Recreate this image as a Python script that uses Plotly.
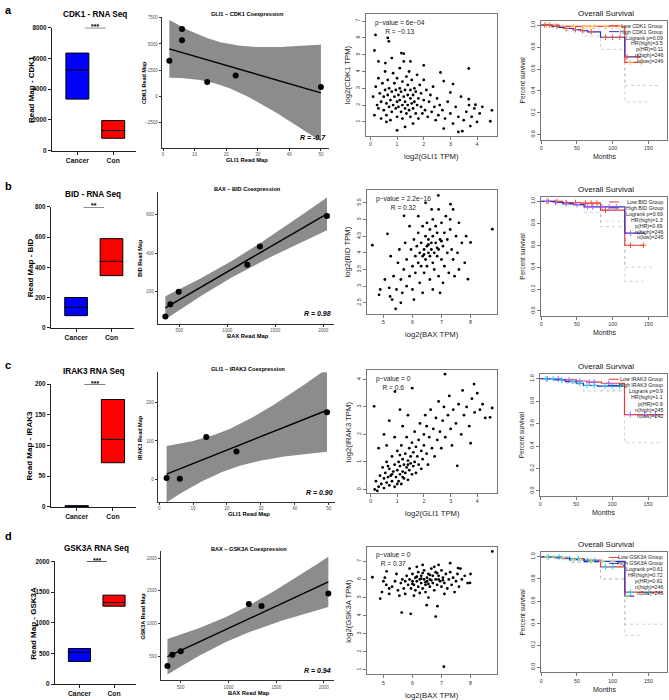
import numpy as np
import plotly.graph_objects as go

FONT = "Liberation Sans, Arial, sans-serif"
W, H = 669, 700

# ---------------- RNA-seq boxes: (q1, median, q3) ----------------
genes = ["CDK1", "BID", "IRAK3", "GSK3A"]
rna_titles = ["CDK1 - RNA Seq", "BID - RNA Seq", "IRAK3 RNA Seq", "GSK3A RNA Seq"]
rna_ymax = [8000, 800, 200, 2000]
rna_dtick = [2000, 200, 50, 500]
cancer_q = [[3350, 5250, 6350], [80, 135, 200], [0, 1, 2], [370, 520, 580]]
con_q = [[800, 1300, 1950], [345, 440, 590], [72, 110, 175], [1270, 1330, 1450]]
stars = ["***", "**", "***", "***"]

# ---------------- coexpression (read map) ----------------
co_drivers = ["GLI1", "BAX", "GLI1", "BAX"]
gli1_cdk1_x = [2, 6, 6, 14, 23, 50]
gli1_cdk1_y = [3400, 6440, 5350, 1350, 1990, 870]
bax_bid_x = [355, 407, 494, 1209, 1340, 2039]
bax_bid_y = [72, 135, 200, 340, 434, 592]
gli1_irak3_x = [2.2, 6.1, 13.9, 22.8, 49.5]
gli1_irak3_y = [3, 1, 110, 72, 175]
bax_gsk3a_x = [361, 413, 500, 1214, 1347, 2047]
bax_gsk3a_y = [353, 524, 580, 1298, 1268, 1460]
co_r = ["R = -0.7", "R = 0.98", "R = 0.90", "R = 0.94"]
t_crit = {3: 3.182, 4: 2.776}

# ---------------- TCGA scatter (log2 TPM) ----------------
scat_a = [(0.1,2.5),(0.15,1.4),(0.2,3.1),(0.25,2.0),(0.3,3.6),(0.3,1.8),(0.35,2.7),(0.4,2.2),(0.4,1.2),
    (0.45,3.3),(0.5,2.5),(0.5,1.7),(0.55,4.0),(0.55,2.9),(0.6,2.1),(0.6,1.4),(0.65,3.5),(0.65,2.6),
    (0.7,1.9),(0.7,3.0),(0.75,2.3),(0.75,1.1),(0.8,2.8),(0.8,1.6),(0.85,3.9),(0.85,2.0),(0.9,2.5),
    (0.9,3.3),(0.95,1.8),(0.95,2.9),(1.0,2.2),(1.0,1.3),(1.0,3.6),(1.05,2.6),(1.05,1.9),(1.1,4.2),
    (1.1,3.0),(1.1,2.3),(1.15,1.6),(1.15,2.8),(1.2,2.0),(1.2,3.4),(1.2,1.2),(1.25,2.5),(1.25,4.6),
    (1.3,1.8),(1.3,2.9),(1.3,2.2),(1.35,3.7),(1.35,1.5),(1.4,2.6),(1.4,2.0),(1.4,3.2),(1.45,1.7),
    (1.45,4.0),(1.5,2.4),(1.5,2.9),(1.5,1.3),(1.55,2.1),(1.55,3.5),(1.6,1.8),(1.6,2.6),(1.65,3.0),
    (1.65,2.2),(1.7,1.5),(1.7,2.8),(1.75,3.8),(1.75,2.0),(1.8,2.4),(1.8,1.2),(1.85,3.2),(1.9,1.9),
    (1.9,2.7),(1.95,1.5),(2.0,2.3),(2.0,3.5),(2.05,1.7),(2.1,2.9),(2.15,1.3),(2.2,2.2),(2.25,2.6),
    (2.3,1.6),(2.35,3.1),(2.4,1.9),(2.45,1.1),(2.5,2.4),(2.55,1.4),(2.6,2.0),(2.7,1.7),(2.8,1.2),
    (2.9,2.2),(3.0,1.5),(3.1,0.9),(3.2,1.9),(3.3,1.3),(3.4,2.5),(3.5,1.1),(3.6,1.6),(3.7,2.0),
    (3.8,1.3),(3.9,1.8),(4.0,1.0),(4.1,1.5),(4.2,1.9),(3.45,0.45),(2.75,0.6),(1.6,0.9),(1.3,0.7),
    (0.6,1.0),(0.3,4.6),(1.5,4.6),(0.8,4.8),(0.19,6.18),(0.65,6.0),(0.69,5.8),(0.15,5.25),(1.16,5.1),
    (1.25,5.06),(0.56,4.5),(2.0,4.37),(3.69,4.18),(2.63,3.94),(2.75,3.43),(3.1,3.25),(3.0,2.75),
    (3.69,2.35),(3.94,2.02),(4.56,1.69),(4.5,1.04),(3.75,0.75),(3.3,0.4),(1.0,0.5)]
scat_b = [(5.6,3.2),(5.7,3.5),(5.8,3.0),(5.8,3.8),(5.9,3.3),(5.95,4.1),(6.0,3.6),(6.0,2.9),(6.05,4.4),
    (6.1,3.9),(6.1,3.4),(6.15,4.2),(6.2,3.7),(6.2,4.6),(6.25,3.1),(6.25,4.0),(6.3,4.3),(6.3,3.6),
    (6.35,4.8),(6.35,3.9),(6.4,4.1),(6.4,3.4),(6.45,4.5),(6.45,3.8),(6.5,4.2),(6.5,4.9),(6.5,3.6),
    (6.55,4.0),(6.55,4.4),(6.6,3.2),(6.6,4.7),(6.6,3.9),(6.65,4.3),(6.65,4.1),(6.7,3.7),(6.7,4.5),
    (6.7,5.0),(6.75,4.0),(6.75,3.5),(6.8,4.3),(6.8,4.8),(6.85,3.9),(6.85,4.6),(6.9,4.1),(6.9,3.3),
    (6.95,4.4),(7.0,4.9),(7.0,3.8),(7.05,4.2),(7.1,4.6),(7.1,3.6),(7.15,5.1),(7.2,4.0),(7.2,4.4),
    (7.25,3.4),(7.3,4.7),(7.35,4.1),(7.4,5.3),(7.4,3.8),(7.5,4.5),(7.55,4.0),(7.6,4.9),(7.7,4.3),
    (7.8,3.7),(7.85,4.5),(5.5,3.7),(5.45,2.9),(5.35,3.3),(5.3,2.6),(5.25,3.9),(5.6,2.5),(5.75,4.3),
    (5.9,4.8),(6.05,2.6),(6.2,5.1),(6.45,5.5),(6.7,2.9),(6.9,5.3),(7.05,3.1),(7.3,5.0),(7.45,3.3),
    (5.65,2.8),(5.55,4.1),(6.35,2.8),(6.95,2.8),(7.6,3.5),(5.05,3.2),(5.2,2.95),(4.62,4.23),
    (5.14,4.57),(8.75,4.71),(8.0,4.31),(7.91,3.21),(6.89,5.72),(7.31,5.46),(6.66,5.3),(5.71,5.11),
    (5.42,2.32),(4.85,2.74),(4.89,2.9),(5.23,2.69),(6.55,4.25),(6.85,4.15),(6.4,3.95),(7.0,4.35)]
scat_c = [(0.2,0.3),(0.3,0.1),(0.35,0.5),(0.4,0.2),(0.45,0.8),(0.5,0.4),(0.5,0.05),(0.55,0.6),(0.6,0.25),
    (0.6,1.0),(0.65,0.45),(0.7,0.15),(0.7,0.75),(0.75,0.5),(0.8,1.2),(0.8,0.3),(0.85,0.65),(0.9,0.9),
    (0.9,0.1),(0.95,0.45),(1.0,0.7),(1.0,1.4),(1.05,0.3),(1.05,1.0),(1.1,0.55),(1.1,0.85),(1.15,1.6),
    (1.15,0.2),(1.2,0.65),(1.2,1.1),(1.25,0.4),(1.25,0.9),(1.3,1.3),(1.3,0.6),(1.35,0.8),(1.35,1.9),
    (1.4,1.05),(1.4,0.35),(1.45,0.7),(1.45,1.5),(1.5,0.95),(1.5,1.2),(1.55,0.55),(1.55,1.7),(1.6,0.85),
    (1.6,1.35),(1.65,2.1),(1.65,1.0),(1.7,0.6),(1.7,1.55),(1.75,1.2),(1.8,0.9),(1.8,1.8),(1.85,2.4),
    (1.9,1.4),(1.9,0.75),(1.95,1.1),(2.0,2.0),(2.0,1.6),(2.05,2.7),(2.1,1.3),(2.1,2.3),(2.15,0.9),
    (2.2,1.9),(2.25,2.9),(2.3,1.5),(2.35,2.2),(2.4,1.2),(2.45,2.6),(2.5,1.8),(2.55,3.2),(2.6,2.1),
    (2.65,1.5),(2.7,2.5),(2.75,3.0),(2.8,1.9),(2.9,2.7),(2.95,3.4),(3.0,2.2),(3.05,1.6),(3.1,2.9),
    (3.2,2.4),(3.3,3.1),(3.4,2.0),(3.45,3.6),(3.5,2.7),(3.6,3.0),(3.7,2.3),(3.8,3.3),(3.9,2.8),
    (4.0,3.5),(4.1,2.9),(4.2,3.1),(4.3,2.6),(0.5,2.0),(0.7,2.5),(0.9,1.9),(1.1,2.9),(0.3,1.5),
    (1.2,2.3),(1.4,2.7),(0.6,1.6),(2.79,4.19),(0.91,3.56),(0.13,3.02),(3.88,3.83),(1.56,3.68),
    (3.75,1.68),(3.25,0.86),(4.56,2.96),(4.48,2.62),(0.15,0.0),(0.25,-0.05),(1.0,0.2),(1.2,0.45),
    (0.8,0.55),(1.4,0.9),(0.65,0.85),(1.1,1.25)]
scat_d = [(5.3,5.6),(5.4,5.9),(5.5,5.4),(5.6,5.8),(5.65,6.0),(5.7,5.5),(5.75,5.9),(5.8,6.2),(5.85,5.7),
    (5.9,6.0),(5.95,5.5),(6.0,5.9),(6.0,6.3),(6.05,5.7),(6.1,6.1),(6.1,5.4),(6.15,5.9),(6.2,6.4),
    (6.2,5.6),(6.25,6.0),(6.3,5.8),(6.3,6.2),(6.35,5.5),(6.4,6.0),(6.4,6.5),(6.45,5.7),(6.5,6.1),
    (6.5,5.9),(6.55,6.3),(6.6,5.6),(6.6,6.0),(6.65,6.6),(6.7,5.8),(6.7,6.2),(6.75,5.4),(6.8,6.0),
    (6.8,6.4),(6.85,5.7),(6.9,6.2),(6.95,5.9),(7.0,6.5),(7.0,5.6),(7.05,6.1),(7.1,5.8),(7.15,6.3),
    (7.2,5.5),(7.25,6.0),(7.3,6.4),(7.35,5.7),(7.4,6.1),(7.5,5.9),(7.55,6.3),(7.6,5.6),(7.7,6.0),
    (7.8,6.2),(7.9,5.8),(5.1,5.7),(5.0,5.9),(4.95,5.3),(5.2,5.2),(5.45,6.3),(5.55,5.1),(5.9,6.6),
    (6.05,5.1),(6.35,6.8),(6.55,5.0),(6.9,6.8),(7.1,5.2),(7.3,6.9),(7.45,5.3),(6.15,6.7),(6.45,5.3),
    (6.75,6.7),(5.75,5.2),(6.25,5.25),(7.65,6.6),(8.0,6.3),(6.3,6.05),(6.6,6.25),(6.9,6.0),(6.45,5.85),
    (6.15,6.15),(6.85,6.35),(6.55,5.75),(8.75,7.55),(4.62,6.12),(5.11,6.45),(5.63,4.17),(5.94,4.1),
    (6.8,3.95),(7.08,1.18),(4.89,4.94),(6.49,4.58),(6.86,4.52),(7.98,5.81),(7.57,6.63),(5.2,5.5),
    (5.05,6.1),(6.65,5.95),(6.35,6.35),(7.05,5.95),(6.0,5.75)]
scat_labels = [("GLI1", "CDK1"), ("BAX", "BID"), ("GLI1", "IRAK3"), ("BAX", "GSK3A")]
scat_stats = [("6e\u221204", "\u22120.13"), ("2.2e\u221216", "0.32"), ("0", "0.6"), ("0", "0.37")]

# ---------------- survival (Kaplan-Meier steps) ----------------
low_t = [[0, 25, 117, 140], [0, 30, 55, 83, 117, 143], [0, 30, 50, 65, 85, 117, 170], [0, 30, 60, 83, 117, 170]]
low_s = [[1.0, 0.99, 0.66, 0.66], [1.0, 0.99, 0.985, 0.92, 0.60, 0.60],
         [1.0, 0.99, 0.98, 0.97, 0.96, 0.68, 0.68], [1.0, 0.985, 0.97, 0.91, 0.68, 0.68]]
high_t = [[0, 15, 25, 32, 45, 55, 65, 83, 117, 140], [0, 20, 30, 45, 60, 117, 145],
          [0, 20, 35, 50, 60, 80, 115], [0, 20, 40, 60, 117, 130]]
high_s = [[1.0, 0.99, 0.98, 0.97, 0.96, 0.95, 0.94, 0.89, 0.71, 0.71], [1.0, 0.99, 0.98, 0.97, 0.95, 0.71, 0.71],
          [1.0, 0.99, 0.975, 0.96, 0.94, 0.935, 0.935], [1.0, 0.99, 0.975, 0.96, 0.645, 0.645]]
low_ci_t = [[0, 25, 60, 117, 150], [0, 40, 83, 117, 143], [0, 50, 83, 117, 170], [0, 40, 83, 117, 170]]
low_ci_s = [[1.0, 0.98, 0.97, 0.30, 0.30], [1.0, 0.97, 0.82, 0.27, 0.27],
            [1.0, 0.95, 0.90, 0.43, 0.43], [1.0, 0.95, 0.80, 0.39, 0.39]]
high_ci_t = [[0, 15, 32, 60, 83, 117, 165], [0, 30, 60, 83, 117, 155], [0, 30, 60, 83, 115], [0, 40, 83, 117, 140]]
high_ci_s = [[1.0, 0.98, 0.95, 0.90, 0.78, 0.45, 0.45], [1.0, 0.97, 0.90, 0.77, 0.40, 0.40],
             [1.0, 0.96, 0.89, 0.89, 0.89], [1.0, 0.95, 0.80, 0.29, 0.29]]
low_cens = [[8, 18, 30, 45, 60, 68, 75, 90, 100, 110, 125, 140],
            [10, 22, 35, 48, 62, 70, 78, 90, 125, 143],
            [10, 25, 40, 55, 68, 75, 95, 125, 145, 160],
            [10, 25, 40, 52, 65, 75, 90, 100, 125, 150]]
high_cens = [[5, 12, 22, 35, 48, 58, 70, 90, 100, 110, 120, 135],
             [8, 20, 35, 50, 65, 72, 85, 95, 105, 125],
             [8, 18, 30, 45, 55, 65, 75, 90, 100, 110],
             [8, 18, 30, 45, 55, 70, 85, 100, 120]]
km_stats = [("0.09", "3.5", "0.11", "246", "246"), ("0.69", "1.3", "0.69", "246", "245"),
            ("0.9", "1.1", "0.9", "245", "242"), ("0.61", "0.72", "0.61", "246", "246")]

# ---------------- panel boxes in pixels: (x0, x1, y0_top, y1_bottom) ----------------
boxes = [
    [(51, 135, 24, 148), (161, 328, 13, 145), (366, 497, 10, 133), (541, 667, 17, 137)],
    [(50, 133, 205, 327), (157, 333, 190, 323), (367, 497, 188, 313), (541, 667, 195, 315)],
    [(50, 135, 384, 508), (157, 335, 372, 503), (367, 497, 370, 494), (540, 667, 374, 497)],
    [(54, 135, 563, 687), (160, 333, 553, 683), (367, 497, 548, 677), (541, 667, 554, 675)],
]
co_ranges = [([-0.4, 52.4], [-4930, 7600]), ([276, 2107], [34, 716]),
             ([-0.4, 52.0], [-60, 280]), ([291, 2101], [137, 2100])]
co_ticks = [([0, 10, 20, 30, 40, 50], [-2500, 0, 2500, 5000, 7500]), ([500, 1000, 1500, 2000], [200, 400, 600]),
            ([0, 10, 20, 30, 40, 50], [0, 100, 200]), ([500, 1000, 1500, 2000], [500, 1000, 1500, 2000])]
sc_ranges = [([-0.15, 4.76], [0.18, 7.43]), ([4.45, 8.92], [2.17, 5.88]),
             ([-0.12, 4.75], [-0.13, 4.33]), ([4.45, 8.92], [0.76, 7.82])]
sc_ticks = [([0, 1, 2, 3, 4], [1, 2, 3, 4, 5, 6, 7]), ([5, 6, 7, 8], [2.5, 3, 3.5, 4, 4.5, 5, 5.5]),
            ([0, 1, 2, 3, 4], [0, 1, 2, 3, 4]), ([5, 6, 7, 8], [1, 2, 3, 4, 5, 6, 7])]
letters = [("a", 6), ("b", 184), ("c", 365), ("d", 537)]

RED, BLUE = "#ff0000", "#0000ff"
KM_RED, KM_BLUE = "#e8383d", "#3030c8"


def px(x):
    return x / W


def py(y):
    return 1 - y / H


fig = go.Figure()
layout = {}
annotations = []
shapes = []


def ann(text, x, y, size, xanchor="center", yanchor="middle", angle=0, color="black",
        xref="paper", yref="paper", yshift=0):
    annotations.append(dict(text=text, x=x, y=y, xref=xref, yref=yref, showarrow=False,
                            xanchor=xanchor, yanchor=yanchor, textangle=angle, yshift=yshift,
                            font=dict(family=FONT, size=size, color=color)))


def set_axes(i, box, xr, yr, **kw):
    x0, x1, y0, y1 = box
    common = dict(showgrid=False, zeroline=False, showline=True, ticks="outside", fixedrange=True)
    xa = dict(common, domain=[px(x0), px(x1)], range=xr, anchor=f"y{i}")
    ya = dict(common, domain=[py(y1), py(y0)], range=yr, anchor=f"x{i}")
    xa.update(kw.get("x", {}))
    ya.update(kw.get("y", {}))
    layout[f"xaxis{i}"] = xa
    layout[f"yaxis{i}"] = ya


def step_at(t, s, when):
    idx = np.searchsorted(t, when, side="right") - 1
    return np.asarray(s)[idx]


co_x = [gli1_cdk1_x, bax_bid_x, gli1_irak3_x, bax_gsk3a_x]
co_y = [gli1_cdk1_y, bax_bid_y, gli1_irak3_y, bax_gsk3a_y]
scats = [scat_a, scat_b, scat_c, scat_d]

for r in range(4):
    gene = genes[r]
    # ---------- column 1: RNA-seq box ----------
    i = r * 4 + 1
    b = boxes[r][0]
    xs, ys = f"x{i}", f"y{i}"
    for cat, q, col in (("Cancer", cancer_q[r], BLUE), ("Con", con_q[r], RED)):
        fig.add_trace(go.Box(x=[cat], q1=[q[0]], median=[q[1]], q3=[q[2]], lowerfence=[q[0]],
                             upperfence=[q[2]], fillcolor=col, line=dict(color="black", width=1),
                             width=0.64, whiskerwidth=0, boxpoints=False, showlegend=False,
                             hoverinfo="skip", xaxis=xs, yaxis=ys))
    yt = list(range(0, rna_ymax[r] + 1, rna_dtick[r]))
    set_axes(i, b, [-0.71, 1.63], [0, rna_ymax[r]],
             x=dict(type="category", categoryorder="array", categoryarray=["Cancer", "Con"],
                    tickvals=["Cancer", "Con"], ticktext=["<b>Cancer</b>", "<b>Con</b>"],
                    linecolor="#222", linewidth=1.3, ticklen=3, tickcolor="#222",
                    tickfont=dict(family=FONT, size=6.8, color="#111")),
             y=dict(tickvals=yt, ticktext=[f"<b>{v}</b>" for v in yt], linecolor="#222", linewidth=1.3,
                    ticklen=3, tickcolor="#222", tickfont=dict(family=FONT, size=6.3, color="#111")))
    top = rna_ymax[r]
    shapes.append(dict(type="line", xref=xs, yref=ys, x0=0.21, x1=0.79, y0=top, y1=top,
                       line=dict(color="black", width=1)))
    ann(f"<b>{stars[r]}</b>", 0.5, top, 7, xref=xs, yref=ys, yshift=1)
    ann(f"<b>{rna_titles[r]}</b>", px((b[0] + b[1]) / 2 + 1), py(b[2] - 13), 8.2)
    ann(f"<b>Read Map - {gene}</b>", px(b[0] - 21), py((b[2] + b[3]) / 2), 8, angle=-90)
    ann(f"<b>{letters[r][0]}</b>", px(2), py(letters[r][1]), 11, xanchor="left")

    # ---------- column 2: coexpression with lm fit ----------
    i = r * 4 + 2
    b = boxes[r][1]
    xs, ys = f"x{i}", f"y{i}"
    x = np.asarray(co_x[r], float)
    y = np.asarray(co_y[r], float)
    n = len(x)
    slope, icpt = np.polyfit(x, y, 1)
    resid = y - (icpt + slope * x)
    s = np.sqrt(np.sum(resid ** 2) / (n - 2))
    sxx = np.sum((x - x.mean()) ** 2)
    grid = np.linspace(x.min(), x.max(), 80)
    fit = icpt + slope * grid
    half = t_crit[n - 2] * s * np.sqrt(1 / n + (grid - x.mean()) ** 2 / sxx)
    fig.add_trace(go.Scatter(x=np.concatenate([grid, grid[::-1]]),
                             y=np.concatenate([fit + half, (fit - half)[::-1]]),
                             fill="toself", fillcolor="#8c8c8c", line=dict(width=0),
                             mode="lines", hoverinfo="skip", showlegend=False, xaxis=xs, yaxis=ys))
    fig.add_trace(go.Scatter(x=grid, y=fit, mode="lines", line=dict(color="black", width=1.4),
                             hoverinfo="skip", showlegend=False, xaxis=xs, yaxis=ys))
    fig.add_trace(go.Scatter(x=x, y=y, mode="markers", marker=dict(color="black", size=6),
                             hoverinfo="skip", showlegend=False, xaxis=xs, yaxis=ys))
    xt, ytk = co_ticks[r]
    tick_style = dict(linecolor="#333", linewidth=1, ticklen=2, tickcolor="#333",
                      tickfont=dict(family=FONT, size=4.5, color="#555"))
    set_axes(i, b, co_ranges[r][0], co_ranges[r][1], x=dict(tickvals=xt, **tick_style),
             y=dict(tickvals=ytk, **tick_style))
    ann(f"<b>{co_drivers[r]} \u2013 {gene} Coexpression</b>", px((b[0] + b[1]) / 2 + 2), py(b[2] - 3), 5.6)
    ann(f"<b>{gene} Read Map</b>", px(b[0] - 18), py((b[2] + b[3]) / 2), 5.5, angle=-90)
    ann(f"<b>{co_drivers[r]} Read Map</b>", px((b[0] + b[1]) / 2 + 2), py(b[3] + 12.5), 5.8)
    ann(f"<b><i>{co_r[r]}</i></b>", px(b[1] - 1), py(b[3] - 10), 7, xanchor="right")

    # ---------- column 3: TCGA scatter ----------
    i = r * 4 + 3
    b = boxes[r][2]
    xs, ys = f"x{i}", f"y{i}"
    pts = np.asarray(scats[r])
    fig.add_trace(go.Scatter(x=pts[:, 0], y=pts[:, 1], mode="markers",
                             marker=dict(color="black", size=2.8), hoverinfo="skip",
                             showlegend=False, xaxis=xs, yaxis=ys))
    xt, ytk = sc_ticks[r]
    box_style = dict(mirror=True, linecolor="#777", linewidth=1, ticklen=3, tickcolor="#777",
                     tickfont=dict(family=FONT, size=5.3, color="#333"))
    set_axes(i, b, sc_ranges[r][0], sc_ranges[r][1], x=dict(tickvals=xt, **box_style),
             y=dict(tickvals=ytk, tickangle=-90, **box_style))
    gx, gy = scat_labels[r]
    ann(f"log2({gx} TPM)", px((b[0] + b[1]) / 2), py(b[3] + 21), 7.7, color="#222")
    ann(f"log2({gy} TPM)", px(b[0] - 19), py((b[2] + b[3]) / 2), 7.7, angle=-90, color="#222")
    ann(f"p\u2212value = {scat_stats[r][0]}<br>R = {scat_stats[r][1]}", px(b[0] + 7), py(b[2] + 3), 6.6,
        xanchor="left", yanchor="top", color="#222")

    # ---------- column 4: overall survival ----------
    i = r * 4 + 4
    b = boxes[r][3]
    xs, ys = f"x{i}", f"y{i}"
    for t, sv, col in ((low_ci_t[r], low_ci_s[r], "rgba(200,150,150,0.6)"),
                       (high_ci_t[r], high_ci_s[r], "rgba(150,150,200,0.6)")):
        fig.add_trace(go.Scatter(x=t, y=sv, mode="lines", line=dict(color=col, width=0.8, dash="dot",
                                 shape="hv"), hoverinfo="skip", showlegend=False, xaxis=xs, yaxis=ys))
    for t, sv, cens, col in ((low_t[r], low_s[r], low_cens[r], KM_RED),
                             (high_t[r], high_s[r], high_cens[r], KM_BLUE)):
        fig.add_trace(go.Scatter(x=t, y=sv, mode="lines", line=dict(color=col, width=1.2, shape="hv"),
                                 hoverinfo="skip", showlegend=False, xaxis=xs, yaxis=ys))
        c = np.asarray([v for v in cens if v <= t[-1]])
        fig.add_trace(go.Scatter(x=c, y=step_at(t, sv, c), mode="markers",
                                 marker=dict(symbol="cross-thin-open", size=4, line=dict(color=col, width=1)),
                                 hoverinfo="skip", showlegend=False, xaxis=xs, yaxis=ys))
    ytk = [0, 0.2, 0.4, 0.6, 0.8, 1.0]
    set_axes(i, b, [0, 176], [-0.045, 1.04], x=dict(tickvals=[0, 50, 100, 150], **box_style),
             y=dict(tickvals=ytk, ticktext=[f"{v:.1f}" for v in ytk], tickangle=-90, **box_style))
    ann("Overall Survival", px((b[0] + b[1]) / 2 + 2), py(b[2] - 1), 8, yanchor="bottom", color="#111")
    ann("Percent survival", px(b[0] - 19), py((b[2] + b[3]) / 2), 6.5, angle=-90, color="#222")
    ann("Months", px((b[0] + b[1]) / 2), py(b[3] + 17), 7, color="#222")
    lp, hr, phr, nh, nl = km_stats[r]
    lines = [f"Low {gene} Group", f"High {gene} Group", f"Logrank p={lp}", f"HR(high)={hr}",
             f"p(HR)={phr}", f"n(high)={nh}", f"n(low)={nl}"]
    for k, txt in enumerate(lines):
        yy = 0.995 - 0.054 * k
        ann(txt, 173, yy, 5.3, xanchor="right", xref=xs, yref=ys, color="#222")
        if k < 2:
            shapes.append(dict(type="line", xref=xs, yref=ys, x0=95, x1=109, y0=yy, y1=yy,
                               line=dict(color=[KM_RED, KM_BLUE][k], width=1)))

fig.update_layout(**layout)
fig.update_layout(width=W, height=H, margin=dict(l=0, r=0, t=0, b=0),
                  plot_bgcolor="white", paper_bgcolor="white",
                  font=dict(family=FONT, color="black"),
                  annotations=annotations, shapes=shapes, showlegend=False)
fig.write_html("out.html", config={"displayModeBar": False},
               post_script="document.body.style.margin='0';document.body.style.overflow='hidden';")
